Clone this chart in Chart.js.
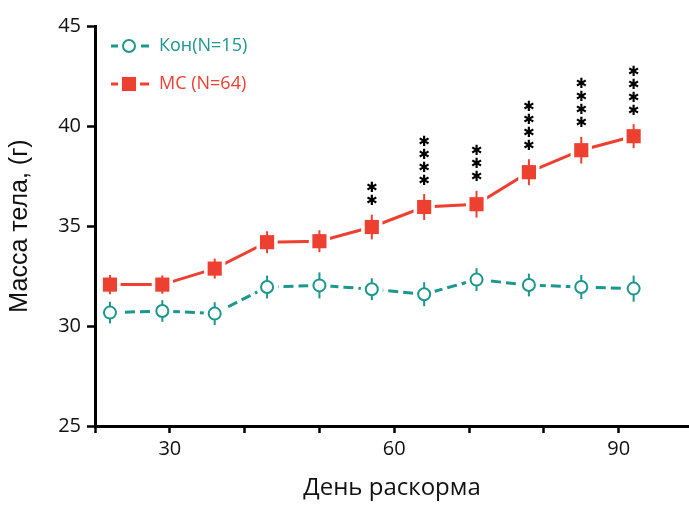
<!DOCTYPE html>
<html>
<head>
<meta charset="utf-8">
<script src="https://cdn.jsdelivr.net/npm/chart.js@4.4.0/dist/chart.umd.min.js"></script>
<style>
  html, body { margin: 0; padding: 0; background: #fff; overflow: hidden; }
</style>
</head>
<body>
<canvas id="chart" width="689" height="505"></canvas>
<script>
// days of feeding
const days = [22, 29, 36, 43, 50, 57, 64, 71, 78, 85, 92];

// control group: mean body mass and SEM, g
const konMean = [30.67, 30.75, 30.62, 31.95, 32.03, 31.84, 31.59, 32.32, 32.05, 31.95, 31.87];
const konSem  = [0.54, 0.54, 0.57, 0.57, 0.65, 0.55, 0.60, 0.57, 0.57, 0.60, 0.65];

// MS group: mean body mass and SEM, g
const msMean = [32.07, 32.07, 32.87, 34.19, 34.24, 34.95, 35.95, 36.09, 37.69, 38.79, 39.49];
const msSem  = [0.48, 0.46, 0.50, 0.55, 0.55, 0.62, 0.65, 0.67, 0.65, 0.67, 0.60];

// number of asterisks over each MS point
const msStars = [0, 0, 0, 0, 0, 2, 4, 3, 4, 4, 4];

const xTicks = [20, 30, 40, 50, 60, 70, 80, 90];
const xLabels = [30, 60, 90];
const yTicks = [25, 30, 35, 40, 45];

const TEAL = '#1b978d';
const RED = '#ee4030';

const konPts = days.map((d, i) => ({ x: d, y: konMean[i] }));
const msPts = days.map((d, i) => ({ x: d, y: msMean[i] }));

// vertical SEM whiskers, drawn just before the marker dataset of the series
const errorBars = {
  id: 'errorBars',
  beforeDatasetDraw(chart, args) {
    const ds = chart.data.datasets[args.index];
    if (!ds.sem) return;
    const { ctx, scales: { x, y } } = chart;
    ctx.save();
    ctx.strokeStyle = ds.whisker;
    ctx.lineWidth = 2;
    ds.data.forEach((p, i) => {
      const px = x.getPixelForValue(p.x);
      const top = y.getPixelForValue(p.y + ds.sem[i]);
      const bot = y.getPixelForValue(p.y - ds.sem[i]);
      ctx.beginPath();
      ctx.moveTo(px, top);
      ctx.lineTo(px, bot);
      ctx.stroke();
    });
    ctx.restore();
  }
};

// significance asterisks above the MS points
const stars = {
  id: 'stars',
  afterDatasetsDraw(chart) {
    const { ctx, scales: { x, y } } = chart;
    ctx.save();
    ctx.fillStyle = '#000';
    ctx.font = '14px "DejaVu Sans"';
    ctx.textAlign = 'center';
    ctx.textBaseline = 'alphabetic';
    const m = ctx.measureText('✱');
    const shift = (m.actualBoundingBoxAscent - m.actualBoundingBoxDescent) / 2;
    days.forEach((d, i) => {
      const px = x.getPixelForValue(d);
      const top = y.getPixelForValue(msMean[i] + msSem[i]);
      for (let k = 0; k < msStars[i]; k++) {
        const cy = top - 15 - k * 13;
        ctx.fillText('✱', px, cy + shift);
      }
    });
    ctx.restore();
  }
};

// legend in the upper left corner
const legendBox = {
  id: 'legendBox',
  afterDraw(chart) {
    const ctx = chart.ctx;
    const rows = [
      { text: 'Кон(N=15)', color: TEAL, y: 46, dash: [10, 5],
        pt: { pointStyle: 'circle', radius: 6, borderWidth: 2, rotation: 0 }, fill: '#fff' },
      { text: 'МС (N=64)', color: RED, y: 84, dash: [],
        pt: { pointStyle: 'rect', radius: 10, borderWidth: 0, rotation: 0 }, fill: RED }
    ];
    ctx.save();
    rows.forEach(r => {
      ctx.strokeStyle = r.color;
      ctx.lineWidth = 3;
      ctx.setLineDash(r.dash);
      ctx.beginPath();
      ctx.moveTo(111, r.y);
      ctx.lineTo(149, r.y);
      ctx.stroke();
      ctx.setLineDash([]);
      ctx.fillStyle = '#fff';
      ctx.fillRect(118, r.y - 11, 22, 22);
      ctx.fillStyle = r.fill;
      ctx.strokeStyle = r.color;
      ctx.lineWidth = 2;
      Chart.helpers.drawPoint(ctx, r.pt, 129, r.y);
      ctx.fillStyle = r.color;
      ctx.font = '18px "Open Sans"';
      ctx.textAlign = 'left';
      ctx.textBaseline = 'middle';
      ctx.fillText(r.text, 159, r.y);
    });
    ctx.restore();
  }
};

const noSidePadding = s => { s.paddingLeft = 0; s.paddingRight = 0; };

new Chart(document.getElementById('chart'), {
  type: 'line',
  data: {
    datasets: [
      { // control line with white halos
        data: konPts, order: 1, borderColor: TEAL, borderWidth: 3, borderDash: [10, 5],
        tension: 0, pointStyle: 'circle', pointRadius: 11, pointBorderWidth: 0,
        pointBackgroundColor: '#fff', pointBorderColor: '#fff'
      },
      { // MS line with white halos
        data: msPts, order: 1, borderColor: RED, borderWidth: 3, tension: 0,
        pointStyle: 'rect', pointRadius: 15, pointBorderWidth: 0,
        pointBackgroundColor: '#fff', pointBorderColor: '#fff'
      },
      { // control markers
        data: konPts, order: 0, showLine: false, sem: konSem, whisker: TEAL,
        pointStyle: 'circle', pointRadius: 6, pointBorderWidth: 2,
        pointBorderColor: TEAL, pointBackgroundColor: '#fff', borderColor: TEAL
      },
      { // MS markers
        data: msPts, order: 0, showLine: false, sem: msSem, whisker: RED,
        pointStyle: 'rect', pointRadius: 10, pointBorderWidth: 0,
        pointBorderColor: RED, pointBackgroundColor: RED, borderColor: RED
      }
    ]
  },
  options: {
    responsive: false,
    animation: false,
    devicePixelRatio: 1,
    layout: { autoPadding: false, padding: { top: 26, right: 0, bottom: 0, left: 0 } },
    plugins: { legend: { display: false }, tooltip: { enabled: false } },
    scales: {
      x: {
        type: 'linear', min: 20, max: 99.4,
        afterBuildTicks: s => { s.ticks = xTicks.map(v => ({ value: v })); },
        afterFit: s => { s.height = 79; noSidePadding(s); },
        border: { display: true, color: '#000', width: 3 },
        grid: { drawOnChartArea: false, drawTicks: true, tickLength: 7, tickWidth: 2.5, tickColor: '#000' },
        ticks: {
          autoSkip: false, maxRotation: 0, padding: 4, color: '#111',
          font: { family: 'Open Sans', size: 20 },
          callback: v => xLabels.includes(v) ? String(v) : ''
        },
        title: {
          display: true, text: 'День раскорма', color: '#111',
          font: { family: 'Open Sans', size: 24 }, padding: { top: 0, bottom: 2 }
        }
      },
      y: {
        min: 25, max: 45,
        afterBuildTicks: s => { s.ticks = yTicks.map(v => ({ value: v })); },
        afterFit: s => { s.width = 95; },
        border: { display: true, color: '#000', width: 3 },
        grid: { drawOnChartArea: false, drawTicks: true, tickLength: 8, tickWidth: 2.5, tickColor: '#000' },
        ticks: {
          padding: 6, color: '#111',
          font: { family: 'Open Sans', size: 20 }
        },
        title: {
          display: true, text: 'Масса тела, (г)', color: '#111',
          font: { family: 'Liberation Sans', size: 25 }, padding: { top: 5, bottom: 0 }
        }
      }
    }
  },
  plugins: [errorBars, stars, legendBox]
});
</script>
</body>
</html>
